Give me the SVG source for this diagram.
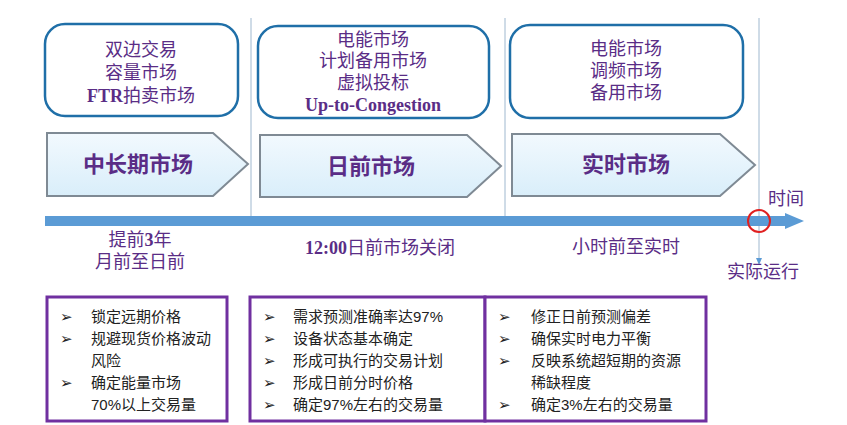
<svg xmlns="http://www.w3.org/2000/svg" width="847" height="425" viewBox="0 0 847 425">
<defs>
<linearGradient id="cg" x1="0" y1="0" x2="0" y2="1"><stop offset="0" stop-color="#f2f9fe"/><stop offset="1" stop-color="#d9eefa"/></linearGradient>
<style>
.rb{fill:#fff;stroke:#1f6fa8;stroke-width:2.5}
.ch{fill:url(#cg);stroke:#7f8a94;stroke-width:2}
.t{font-family:"Liberation Serif","Noto Sans CJK SC",serif;fill:#5a2d86;text-anchor:middle}
.tt{font-size:18px}
.cl{font-size:22px;font-weight:bold}
.pb{fill:#fff;stroke:#7030a0;stroke-width:3}
.b{font-family:"Liberation Sans","Noto Sans CJK SC",sans-serif;font-size:15px;fill:#222}
.vl{stroke:#9fb8cf;stroke-width:1}
</style>
</defs>
<rect width="847" height="425" fill="#fff"/>
<g id="guides">
<line class="vl" x1="251" y1="18" x2="251" y2="222"/>
<line class="vl" x1="505" y1="18" x2="505" y2="222"/>
<line class="vl" x1="759" y1="18" x2="759" y2="260"/>
</g>
<g id="top1"><rect class="rb" x="45" y="24" width="193" height="92" rx="20"/>
<text class="t tt" x="141" y="56">双边交易</text><text class="t tt" x="141" y="79">容量市场</text><text class="t tt" x="141" y="102"><tspan font-weight="bold">FTR</tspan>拍卖市场</text></g>
<g id="top2"><rect class="rb" x="258" y="26" width="231" height="92" rx="20"/>
<text class="t tt" x="373" y="46">电能市场</text><text class="t tt" x="373" y="67">计划备用市场</text><text class="t tt" x="373" y="89">虚拟投标</text><text class="t tt" x="373" y="111" font-weight="bold">Up-to-Congestion</text></g>
<g id="top3"><rect class="rb" x="510" y="25" width="233" height="93" rx="20"/>
<text class="t tt" x="626" y="55">电能市场</text><text class="t tt" x="626" y="77">调频市场</text><text class="t tt" x="626" y="99">备用市场</text></g>
<g id="ch1"><path class="ch" d="M47,133 H213 L248,164 L213,196 H47 Z"/><text class="t cl" x="138" y="172">中长期市场</text></g>
<g id="ch2"><path class="ch" d="M260,135 H467 L501,166 L467,197 H260 Z"/><text class="t cl" x="371" y="174">日前市场</text></g>
<g id="ch3"><path class="ch" d="M512,134 H720 L755,165 L720,196 H512 Z"/><text class="t cl" x="626" y="172">实时市场</text></g>
<g id="connectors">
<path d="M45,216 H785 V213 L804,221 L785,229 V226 H45 Z" fill="#5b9bd5"/>
<circle cx="759" cy="221" r="11" fill="none" stroke="#e02020" stroke-width="2"/>
<path d="M756,258 L762,258 L759,265 Z" fill="#5b9bd5"/>
</g>
<g id="labels">
<text class="t tt" x="140" y="246">提前<tspan font-weight="bold">3</tspan>年</text>
<text class="t tt" x="140" y="268">月前至日前</text>
<text class="t tt" x="380" y="254"><tspan font-weight="bold">12:00</tspan>日前市场关闭</text>
<text class="t tt" x="626" y="253">小时前至实时</text>
<text class="t tt" x="786" y="205">时间</text>
<text class="t tt" x="763" y="278">实际运行</text>
</g>
<g id="b1"><rect class="pb" x="47" y="297" width="180" height="124"/>
<g class="b"><text x="60" y="322">➢</text><text x="60" y="344">➢</text><text x="60" y="388">➢</text>
<text x="91" y="322">锁定远期价格</text><text x="91" y="344">规避现货价格波动</text><text x="91" y="366">风险</text><text x="91" y="388">确定能量市场</text><text x="91" y="410">70%以上交易量</text></g></g>
<g id="b2"><rect class="pb" x="250" y="297" width="235" height="124"/>
<g class="b"><text x="263" y="322">➢</text><text x="263" y="344">➢</text><text x="263" y="366">➢</text><text x="263" y="388">➢</text><text x="263" y="410">➢</text>
<text x="293" y="322">需求预测准确率达97%</text><text x="293" y="344">设备状态基本确定</text><text x="293" y="366">形成可执行的交易计划</text><text x="293" y="388">形成日前分时价格</text><text x="293" y="410">确定97%左右的交易量</text></g></g>
<g id="b3"><rect class="pb" x="485" y="297" width="221" height="124"/>
<g class="b"><text x="498" y="322">➢</text><text x="498" y="344">➢</text><text x="498" y="366">➢</text><text x="498" y="410">➢</text>
<text x="531" y="322">修正日前预测偏差</text><text x="531" y="344">确保实时电力平衡</text><text x="531" y="366">反映系统超短期的资源</text><text x="531" y="388">稀缺程度</text><text x="531" y="410">确定3%左右的交易量</text></g></g>
</svg>
